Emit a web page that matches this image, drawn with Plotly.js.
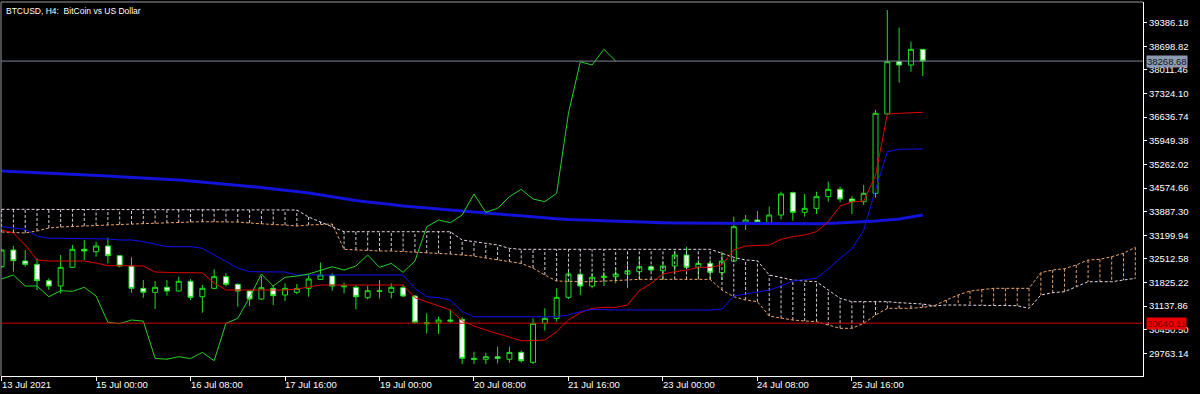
<!DOCTYPE html>
<html><head><meta charset="utf-8">
<script src="https://cdn.plot.ly/plotly-3.0.1.min.js"></script>
<style>html,body{margin:0;padding:0;background:#000;overflow:hidden}#chart{width:1200px;height:394px}</style>
</head><body><div id="chart"></div>
<script>
const chartTitle = "BTCUSD, H4:\u00a0 BitCoin vs US Dollar";
const xTickBars = [0, 8, 16, 24, 32, 40, 48, 56, 64, 72];
const xTickLabels = ["13 Jul 2021", "15 Jul 00:00", "16 Jul 08:00", "17 Jul 16:00", "19 Jul 00:00", "20 Jul 08:00", "21 Jul 16:00", "23 Jul 00:00", "24 Jul 08:00", "25 Jul 16:00"];
const yTickValues = [39386.18, 38698.82, 38011.46, 37324.10, 36636.74, 35949.38, 35262.02, 34574.66, 33887.30, 33199.94, 32512.58, 31825.22, 31137.86, 30450.50, 29763.14];
const yTickLabels = ["39386.18", "38698.82", "38011.46", "37324.10", "36636.74", "35949.38", "35262.02", "34574.66", "33887.30", "33199.94", "32512.58", "31825.22", "31137.86", "30450.50", "29763.14"];
const lastPrice = 38268.68;
const levelPrice = 30640.11;

const opens  = [32283,32770,32450,32353,31876,31721,32266,32790,32720,32886,32604,32303,31654,31538,31683,31576,31859,31410,31654,31993,31770,31576,31343,31654,31460,31540,31654,31916,32022,31700,31683,31381,31585,31538,31673,31430,30655,30645,30732,30752,29616,29590,29664,29590,29790,29500,30635,30780,31392,32062,31721,31970,31993,32071,32138,32283,32167,32303,32624,32265,32381,32109,32449,33546,33643,33565,33788,34438,33867,33983,34321,34536,34254,34176,34420,36729,38251,38155,38612];
const highs  = [32800,32886,32770,32528,31945,32624,32915,33061,33012,33128,32620,32556,31896,31867,31896,31993,31925,31751,32207,32090,31800,31605,32013,31751,31800,31780,32071,32400,32090,31818,31751,31721,31896,31800,31770,31460,30926,30829,31023,30810,29810,29780,29955,29955,29840,30780,31072,31654,32200,32150,32100,32138,32236,32430,32574,32330,32430,32750,32866,32478,32478,32720,33740,33788,33904,34030,34467,34467,34400,34467,34758,34612,34341,34661,36845,39756,39241,38833,38612];
const lows   = [32250,32140,32283,31605,31605,31508,32245,32478,32574,32380,32265,31527,31381,31052,31440,31560,31314,30945,31624,31712,31120,31140,31314,31168,31285,31480,31410,31896,31585,31508,31043,31334,31363,31363,31400,30615,30344,30325,30650,29450,29450,29450,29470,29490,29490,29450,30421,30683,31343,31460,31654,31721,31799,31654,31896,32138,31896,32138,32236,31993,31896,31896,32430,33352,33565,33540,33662,33623,33740,33818,34176,34157,33818,34080,34300,36700,37640,37960,37835];
const closes = [32770,32458,32353,31876,31721,32266,32790,32740,32886,32604,32303,31654,31538,31683,31576,31859,31392,31654,31993,31770,31576,31343,31673,31440,31654,31650,31925,32042,31721,31721,31410,31585,31566,31683,31430,30665,30626,30732,30700,29616,29590,29664,29610,29790,29547,30635,30780,31392,32071,31721,31974,32010,32071,32167,32283,32187,32303,32624,32265,32381,32120,32449,33448,33643,33565,33788,34400,33867,33983,34321,34536,34254,34176,34420,36749,38251,38155,38612,38268.68];

const tenkan = [33352,33265,32915,32478,32449,32449,32449,32449,32391,32313,32313,32313,32304,32129,32109,32109,32109,32100,31809,31605,31605,31605,31605,31605,31605,31634,31692,31751,31751,31751,31751,31751,31751,31751,31751,31381,31265,31139,31023,30711,30557,30441,30344,30246,30130,30130,30150,30392,30732,30945,31072,31101,31101,31168,31585,31799,32071,32138,32187,32265,32265,32333,32770,32886,32906,32915,33080,33157,33206,33304,33594,34050,34167,34196,34935,36728,36749,36768,36778];
const kijun  = [33448,33410,33372,33177,33110,33110,33110,33110,33110,33090,33061,33061,33012,32944,32867,32867,32867,32819,32624,32420,32245,32138,32138,32138,32129,32042,32042,32042,32042,32042,32042,32042,32042,32042,32042,31654,31410,31381,31314,30974,30828,30828,30828,30828,30828,30828,30828,30828,30877,30974,31043,31023,31023,31023,31023,31023,31023,31023,31023,31023,31023,31052,31430,31489,31547,31605,31722,31867,31910,31945,32216,32528,32799,33352,34516,35631,35701,35711,35711];
const spanA  = [33294,33279,33265,33323,33410,33439,33448,33468,33483,33497,33512,33527,33527,33541,33556,33570,33585,33594,33594,33594,33585,33556,33527,33512,33497,33468,33497,33517,33527,32790,32770,32755,32741,32741,32726,32711,32682,32673,32653,32624,32595,32537,32478,32420,32380,32245,32042,31867,31847,31847,31847,31867,31896,31916,31916,31916,31916,31916,31916,31916,31916,31605,31410,31314,31265,30848,30781,30732,30703,30683,30586,30490,30490,30635,30877,31072,31072,31072,31101,31150,31314,31460,31576,31625,31654,31654,31654,31654,32109,32187,32226,32333,32478,32498,32576,32673,32848];
const spanB  = [33954,33954,33954,33954,33954,33954,33954,33954,33954,33954,33954,33954,33954,33954,33954,33954,33954,33954,33954,33954,33954,33954,33954,33954,33954,33934,33730,33584,33439,33302,33302,33302,33302,33302,33302,33302,33302,33302,33302,33061,33012,32964,32915,32818,32790,32790,32790,32790,32790,32790,32790,32790,32790,32790,32790,32790,32790,32790,32790,32790,32790,32673,32557,32478,32458,32042,31975,31896,31867,31847,31605,31363,31265,31265,31265,31265,31236,31217,31197,31140,31168,31168,31168,31168,31168,31168,31148,31072,31460,31527,31556,31701,31847,31847,31847,31896,31945];
const movingAvg = [35069,35055,35040,35026,35011,34997,34982,34962,34938,34924,34903,34886,34865,34845,34827,34807,34778,34749,34720,34691,34662,34633,34589,34545,34516,34472,34429,34370,34312,34254,34210,34167,34138,34094,34050,34021,33978,33949,33920,33890,33861,33832,33803,33774,33745,33721,33701,33678,33657,33643,33628,33614,33599,33590,33585,33576,33564,33558,33555,33552,33550,33547,33544,33541,33541,33538,33535,33532,33526,33532,33541,33555,33570,33585,33614,33643,33672,33730,33789];
const chikouShift = 26;

const barIdx = closes.map((_, i) => i);
const cloudIdx = spanA.map((_, i) => i);
const chikouVals = closes.slice(chikouShift);
const chikouIdx = chikouVals.map((_, i) => i);

// cloud hatch: vertical dashed segments at every bar
const vThX = [], vThY = [], vSbX = [], vSbY = [];
cloudIdx.forEach(i => {
  if (spanB[i] >= spanA[i]) { vThX.push(i, i, null); vThY.push(spanA[i], spanB[i], null); }
  else { vSbX.push(i, i, null); vSbY.push(spanA[i], spanB[i], null); }
});

const DASH = '3px,2px';
const traces = [
  {type:'scatter', mode:'lines', x:vThX, y:vThY, line:{color:'#d8c8d8', width:1, dash:DASH}, hoverinfo:'skip', connectgaps:false},
  {type:'scatter', mode:'lines', x:vSbX, y:vSbY, line:{color:'#e0a070', width:1, dash:DASH}, hoverinfo:'skip', connectgaps:false},
  {type:'scatter', mode:'lines', x:cloudIdx, y:spanA, line:{color:'#f0a468', width:1, dash:DASH}, hoverinfo:'skip'},
  {type:'scatter', mode:'lines', x:cloudIdx, y:spanB, line:{color:'#e8d4e8', width:1, dash:DASH}, hoverinfo:'skip'},
  {type:'scatter', mode:'lines', x:barIdx, y:movingAvg, line:{color:'#1212d8', width:3}, hoverinfo:'skip'},
  {type:'candlestick', x:barIdx, open:opens, high:highs, low:lows, close:closes, whiskerwidth:0,
   increasing:{line:{color:'#1ee01e', width:1}, fillcolor:'#000000'},
   decreasing:{line:{color:'#1ee01e', width:1}, fillcolor:'#ffffff'}, hoverinfo:'skip'},
  {type:'scatter', mode:'lines', x:barIdx, y:tenkan, line:{color:'#e00000', width:1}, hoverinfo:'skip'},
  {type:'scatter', mode:'lines', x:barIdx, y:kijun, line:{color:'#1010f0', width:1}, hoverinfo:'skip'},
  {type:'scatter', mode:'lines', x:chikouIdx, y:chikouVals, line:{color:'#28d028', width:1}, hoverinfo:'skip'}
];

const FONT = 'Liberation Sans, Arial, sans-serif';
const annotations = xTickBars.map((b, i) => ({
  x: b, xref:'x', y:0, yref:'paper', yanchor:'top', xanchor:'left', xshift:-2, yshift:-1,
  text: xTickLabels[i], showarrow:false, font:{family:FONT, size:9.5, color:'#ffffff'}
}));
annotations.push({x:0, xref:'paper', y:1, yref:'paper', xanchor:'left', yanchor:'top', xshift:3, yshift:-2,
  text: chartTitle, showarrow:false, font:{family:FONT, size:8.5, color:'#ffffff'}});
annotations.push({x:1, xref:'paper', y:lastPrice, yref:'y', xanchor:'left', yanchor:'middle', xshift:3,
  text: lastPrice.toFixed(2), showarrow:false, bgcolor:'#8a9ab0', borderpad:0,
  font:{family:FONT, size:9.5, color:'#101828'}});
annotations.push({x:1, xref:'paper', y:levelPrice, yref:'y', xanchor:'left', yanchor:'middle', xshift:3,
  text: levelPrice.toFixed(2), showarrow:false, bgcolor:'#ee0000', borderpad:0,
  font:{family:FONT, size:9.5, color:'#700000'}});

const layout = {
  width:1200, height:394,
  paper_bgcolor:'#000000', plot_bgcolor:'#000000',
  margin:{l:1, r:57, t:2, b:18},
  showlegend:false, hovermode:false, boxgap:0.4,
  xaxis:{range:[-0.05, 96.65], showgrid:false, zeroline:false, showline:true, linecolor:'#ffffff', linewidth:1,
    ticks:'outside', ticklen:4, tickcolor:'#ffffff', tickvals:xTickBars, showticklabels:false,
    rangeslider:{visible:false}, fixedrange:true},
  yaxis:{side:'right', range:[29102, 39989], showgrid:false, zeroline:false, showline:true, linecolor:'#ffffff', linewidth:1,
    ticks:'outside', ticklen:3, tickcolor:'#ffffff', tickvals:yTickValues, ticktext:yTickLabels,
    tickfont:{family:FONT, size:9.5, color:'#ffffff'}, fixedrange:true},
  shapes:[
    {type:'line', xref:'paper', yref:'paper', x0:0, x1:1, y0:1, y1:1, line:{color:'#9a9a9a', width:1}},
    {type:'line', xref:'paper', yref:'paper', x0:0, x1:0, y0:0, y1:1, line:{color:'#9a9a9a', width:1}},
    {type:'line', xref:'paper', yref:'y', x0:0, x1:1, y0:lastPrice, y1:lastPrice, line:{color:'#7a8898', width:1}},
    {type:'line', xref:'paper', yref:'y', x0:0, x1:1, y0:levelPrice, y1:levelPrice, line:{color:'#d00000', width:1}}
  ],
  annotations
};
Plotly.newPlot('chart', traces, layout, {staticPlot:true, displayModeBar:false});
</script></body></html>
